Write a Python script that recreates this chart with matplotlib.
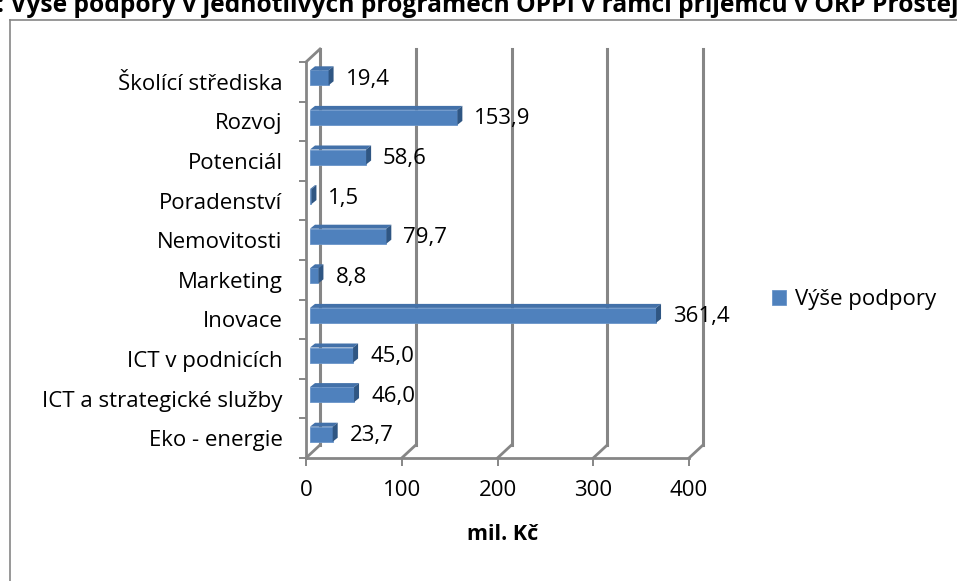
import numpy as np
import matplotlib.pyplot as plt
from matplotlib.patches import Polygon
from matplotlib.lines import Line2D

plt.rcParams['font.family'] = ['Open Sans', 'DejaVu Sans']

categories = ['Eko - energie', 'ICT a strategické služby', 'ICT v podnicích', 'Inovace',
              'Marketing', 'Nemovitosti', 'Poradenství', 'Potenciál', 'Rozvoj',
              'Školící střediska']
values = [23.7, 46.0, 45.0, 361.4, 8.8, 79.7, 1.5, 58.6, 153.9, 19.4]
xticks = [0, 100, 200, 300, 400]
series_name = 'Výše podpory'
title = ': Výše podpory v jednotlivých programech OPPI v rámci příjemců v ORP Prostějov'

W, H = 957, 581
fig = plt.figure(figsize=(W / 100, H / 100), dpi=100)

# plot area in pixels (front plane)
x0, x1, ytop, ybot = 306, 689, 62, 458
ax = fig.add_axes([x0 / W, (H - ybot) / H, (x1 - x0) / W, (ybot - ytop) / H])
ax.set_xlim(0, 400)
ax.set_ylim(-0.5, 9.5)
for s in ax.spines.values():
    s.set_visible(False)

px_x = 400 / (x1 - x0)
px_y = 10 / (ybot - ytop)
grey = '#868686'
fs = 16

# back wall depth
DX, DY = 14 * px_x, 13 * px_y
for v in xticks:
    ax.plot([v + DX, v + DX], [-0.5 + DY, 9.5 + DY], color=grey, lw=2.2, clip_on=False, zorder=1)
    ax.plot([v, v + DX], [-0.5, -0.5 + DY], color=grey, lw=2.0, clip_on=False, zorder=1)
ax.plot([0, DX], [9.5, 9.5 + DY], color=grey, lw=2.0, clip_on=False, zorder=1)
ax.plot([0, 0], [-0.5, 9.5], color=grey, lw=2.0, clip_on=False, zorder=1)
ax.plot([0, 400], [-0.5, -0.5], color=grey, lw=2.0, clip_on=False, zorder=1)

# bars with a little 3D look
ypos = np.arange(len(categories))
bx, by = 4 * px_x, 4 * px_y
bh = 15 * px_y
ddx, ddy = 5 * px_x, 4 * px_y
ax.barh(ypos + by, values, left=bx, height=bh, color='#4F81BD', edgecolor='#6A95C9',
        linewidth=0.6, zorder=3, label=series_name)
for y, v in zip(ypos, values):
    top = y + by + bh / 2
    bot = y + by - bh / 2
    right = bx + v
    ax.add_patch(Polygon([(bx, top), (bx + ddx, top + ddy), (right + ddx, top + ddy), (right, top)],
                         closed=True, facecolor='#4371A9', edgecolor='none', zorder=3, clip_on=False))
    ax.add_patch(Polygon([(right, bot), (right, top), (right + ddx, top + ddy), (right + ddx, bot + ddy)],
                         closed=True, facecolor='#2F5683', edgecolor='none', zorder=3, clip_on=False))
    ax.text(right + ddx + 12 * px_x, y + by - 1.5 * px_y, f'{v:.1f}'.replace('.', ','),
            ha='left', va='center', fontsize=fs, color='black', zorder=4)

ax.set_yticks(ypos)
ax.set_yticklabels(categories, fontsize=fs)
ax.set_yticks(np.arange(-0.5, 10, 1), minor=True)
ax.tick_params(axis='y', which='major', length=0, pad=17)
ax.tick_params(axis='y', which='minor', length=5, width=1.4, color=grey)
ax.set_xticks(xticks)
ax.set_xticklabels([str(t) for t in xticks], fontsize=fs)
ax.tick_params(axis='x', length=6, width=1.4, color=grey, pad=10)

fig.text(503 / W, 1 - 535 / H, 'mil. Kč', ha='center', va='center', fontsize=15.5, fontweight='bold')

# chart border (only top and left visible)
fig.add_artist(Line2D([10 / W, 10 / W], [0, 1 - 20 / H], color=grey, lw=1.2))
fig.add_artist(Line2D([10 / W, 1], [1 - 20 / H, 1 - 20 / H], color=grey, lw=1.2))

fig.text(-3 / W, 1 - 12 / H, title, ha='left', va='baseline', fontsize=17.7, fontweight='bold')

fig.legend(loc='center left', bbox_to_anchor=(772 / W, 1 - 300 / H), frameon=False,
           fontsize=fs, handlelength=0.65, handleheight=0.65, handletextpad=0.4,
           borderpad=0, borderaxespad=0)

fig.savefig('out.png', dpi=100)
